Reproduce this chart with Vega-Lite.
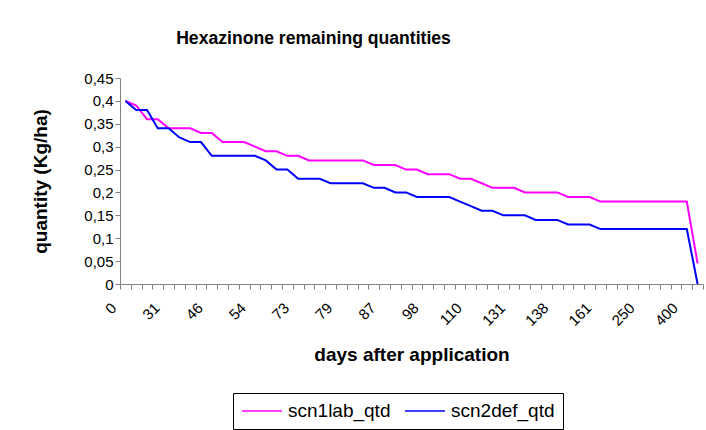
{
  "$schema": "https://vega.github.io/schema/vega-lite/v6.json",
  "autosize": {"type": "none"},
  "padding": {"left": 120, "top": 78, "right": 3, "bottom": 146},
  "width": 583,
  "height": 206,
  "background": "white",
  "title": {
    "text": "Hexazinone remaining quantities",
    "font": "Liberation Sans",
    "fontSize": 17.6,
    "fontWeight": "bold",
    "color": "black",
    "anchor": "middle",
    "dx": -98,
    "baseline": "alphabetic",
    "offset": 9
  },
  "data": {
    "values": [
      {"day": "0", "scn1lab_qtd": 0.40, "scn2def_qtd": 0.40},
      {"day": "3", "scn1lab_qtd": 0.39, "scn2def_qtd": 0.38},
      {"day": "7", "scn1lab_qtd": 0.36, "scn2def_qtd": 0.38},
      {"day": "14", "scn1lab_qtd": 0.36, "scn2def_qtd": 0.34},
      {"day": "31", "scn1lab_qtd": 0.34, "scn2def_qtd": 0.34},
      {"day": "35", "scn1lab_qtd": 0.34, "scn2def_qtd": 0.32},
      {"day": "38", "scn1lab_qtd": 0.34, "scn2def_qtd": 0.31},
      {"day": "42", "scn1lab_qtd": 0.33, "scn2def_qtd": 0.31},
      {"day": "46", "scn1lab_qtd": 0.33, "scn2def_qtd": 0.28},
      {"day": "48", "scn1lab_qtd": 0.31, "scn2def_qtd": 0.28},
      {"day": "50", "scn1lab_qtd": 0.31, "scn2def_qtd": 0.28},
      {"day": "52", "scn1lab_qtd": 0.31, "scn2def_qtd": 0.28},
      {"day": "54", "scn1lab_qtd": 0.30, "scn2def_qtd": 0.28},
      {"day": "59", "scn1lab_qtd": 0.29, "scn2def_qtd": 0.27},
      {"day": "63", "scn1lab_qtd": 0.29, "scn2def_qtd": 0.25},
      {"day": "68", "scn1lab_qtd": 0.28, "scn2def_qtd": 0.25},
      {"day": "73", "scn1lab_qtd": 0.28, "scn2def_qtd": 0.23},
      {"day": "75", "scn1lab_qtd": 0.27, "scn2def_qtd": 0.23},
      {"day": "76", "scn1lab_qtd": 0.27, "scn2def_qtd": 0.23},
      {"day": "77", "scn1lab_qtd": 0.27, "scn2def_qtd": 0.22},
      {"day": "79", "scn1lab_qtd": 0.27, "scn2def_qtd": 0.22},
      {"day": "81", "scn1lab_qtd": 0.27, "scn2def_qtd": 0.22},
      {"day": "83", "scn1lab_qtd": 0.27, "scn2def_qtd": 0.22},
      {"day": "85", "scn1lab_qtd": 0.26, "scn2def_qtd": 0.21},
      {"day": "87", "scn1lab_qtd": 0.26, "scn2def_qtd": 0.21},
      {"day": "90", "scn1lab_qtd": 0.26, "scn2def_qtd": 0.20},
      {"day": "93", "scn1lab_qtd": 0.25, "scn2def_qtd": 0.20},
      {"day": "95", "scn1lab_qtd": 0.25, "scn2def_qtd": 0.19},
      {"day": "98", "scn1lab_qtd": 0.24, "scn2def_qtd": 0.19},
      {"day": "101", "scn1lab_qtd": 0.24, "scn2def_qtd": 0.19},
      {"day": "104", "scn1lab_qtd": 0.24, "scn2def_qtd": 0.19},
      {"day": "107", "scn1lab_qtd": 0.23, "scn2def_qtd": 0.18},
      {"day": "110", "scn1lab_qtd": 0.23, "scn2def_qtd": 0.17},
      {"day": "115", "scn1lab_qtd": 0.22, "scn2def_qtd": 0.16},
      {"day": "120", "scn1lab_qtd": 0.21, "scn2def_qtd": 0.16},
      {"day": "126", "scn1lab_qtd": 0.21, "scn2def_qtd": 0.15},
      {"day": "131", "scn1lab_qtd": 0.21, "scn2def_qtd": 0.15},
      {"day": "133", "scn1lab_qtd": 0.20, "scn2def_qtd": 0.15},
      {"day": "135", "scn1lab_qtd": 0.20, "scn2def_qtd": 0.14},
      {"day": "137", "scn1lab_qtd": 0.20, "scn2def_qtd": 0.14},
      {"day": "138", "scn1lab_qtd": 0.20, "scn2def_qtd": 0.14},
      {"day": "142", "scn1lab_qtd": 0.19, "scn2def_qtd": 0.13},
      {"day": "147", "scn1lab_qtd": 0.19, "scn2def_qtd": 0.13},
      {"day": "154", "scn1lab_qtd": 0.19, "scn2def_qtd": 0.13},
      {"day": "161", "scn1lab_qtd": 0.18, "scn2def_qtd": 0.12},
      {"day": "180", "scn1lab_qtd": 0.18, "scn2def_qtd": 0.12},
      {"day": "200", "scn1lab_qtd": 0.18, "scn2def_qtd": 0.12},
      {"day": "225", "scn1lab_qtd": 0.18, "scn2def_qtd": 0.12},
      {"day": "250", "scn1lab_qtd": 0.18, "scn2def_qtd": 0.12},
      {"day": "300", "scn1lab_qtd": 0.18, "scn2def_qtd": 0.12},
      {"day": "350", "scn1lab_qtd": 0.18, "scn2def_qtd": 0.12},
      {"day": "380", "scn1lab_qtd": 0.18, "scn2def_qtd": 0.12},
      {"day": "400", "scn1lab_qtd": 0.18, "scn2def_qtd": 0.12},
      {"day": "420", "scn1lab_qtd": 0.045, "scn2def_qtd": 0.0}
    ]
  },
  "transform": [{"fold": ["scn1lab_qtd", "scn2def_qtd"], "as": ["series", "qty"]}],
  "mark": {"type": "line", "strokeWidth": 2, "interpolate": "linear"},
  "encoding": {
    "x": {
      "field": "day",
      "type": "nominal",
      "sort": null,
      "scale": {"type": "band", "paddingInner": 0, "paddingOuter": 0},
      "axis": {
        "title": "days after application",
        "tickBand": "extent",
        "labelAngle": -45,
        "labelAlign": "right",
        "labelBaseline": "middle",
        "labelPadding": 16,
        "labelOffset": -12,
        "labelExpr": "indexof(['0','31','46','54','73','79','87','98','110','131','138','161','250','400'], datum.value) >= 0 ? datum.value : ''",
        "titleY": 76,
        "titleBaseline": "alphabetic"
      }
    },
    "y": {
      "field": "qty",
      "type": "quantitative",
      "scale": {"domain": [0, 0.45], "nice": false, "zero": true},
      "axis": {
        "title": "quantity (Kg/ha)",
        "values": [0, 0.05, 0.1, 0.15, 0.2, 0.25, 0.3, 0.35, 0.4, 0.45],
        "labelExpr": "replace(format(datum.value, '.2~f'), '.', ',')",
        "labelPadding": 2,
        "titleX": -80,
        "titleY": 103,
        "titleBaseline": "middle",
        "titleAngle": -90
      }
    },
    "color": {
      "field": "series",
      "type": "nominal",
      "scale": {"domain": ["scn1lab_qtd", "scn2def_qtd"], "range": ["#FF00FF", "#0000FF"]},
      "legend": {
        "title": null,
        "orient": "none",
        "legendX": 113,
        "legendY": 315,
        "direction": "horizontal",
        "strokeColor": "black",
        "fillColor": "white",
        "padding": 8,
        "symbolType": "M-1,0H3.44",
        "symbolSize": 324,
        "symbolStrokeWidth": 1.5,
        "labelOffset": 27,
        "columnPadding": 11,
        "labelFontSize": 19,
        "labelFont": "Liberation Sans",
        "labelColor": "black"
      }
    }
  },
  "config": {
    "view": {"stroke": null},
    "axis": {
      "grid": false,
      "domainColor": "#808080",
      "tickColor": "#808080",
      "tickSize": 5,
      "labelFont": "Liberation Sans",
      "labelFontSize": 15,
      "labelColor": "black",
      "titleFont": "Liberation Sans",
      "titleFontSize": 19,
      "titleFontWeight": "bold",
      "titleColor": "black"
    }
  }
}
